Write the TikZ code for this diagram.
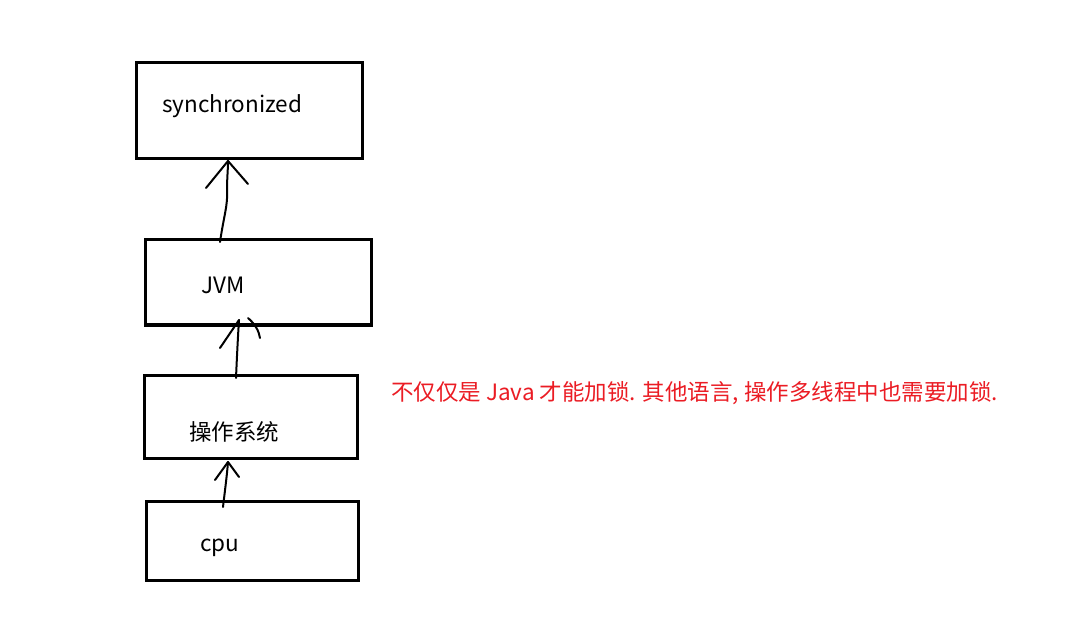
\documentclass[tikz,border=0pt]{standalone}
\usepackage{fontspec}
\setmainfont{Noto Sans CJK SC}
\definecolor{notered}{RGB}{235,28,36}
\begin{document}
\begin{tikzpicture}[x=1pt,y=-1pt,
  box/.style={draw=black,line width=3pt,minimum width=#1,inner sep=0pt},
  lbl/.style={anchor=west,inner sep=0pt,font=\fontsize{22.5pt}{27pt}\selectfont},
  hand/.style={draw=black,line width=2pt,line cap=round,line join=round}]
\useasboundingbox[fill=white] (0,0) rectangle (1086,617);
\node[box=226pt,minimum height=96pt] (sync) at (249,111) {};
\node[box=226pt,minimum height=85pt] (jvm) at (258,282.5) {};
\node[box=213pt,minimum height=83pt] (os) at (250.5,416.5) {};
\node[box=212pt,minimum height=79pt] (cpu) at (252,540.5) {};
\node[lbl] (tsync) at (162,106) {synchronized};
\node[lbl] (tjvm) at (201,285) {JVM};
\node[lbl] (tos) at (189,432) {操作系统};
\node[lbl] (tcpu) at (200,548) {cpu};
\node[lbl,text=notered] (note) at (391,393) {不仅仅是 Java 才能加锁. 其他语言, 操作多线程中也需要加锁.};
% arrow cpu -> os
\coordinate (a3s) at (223,507);
\coordinate (a3t) at (228,462);
\draw[hand] (a3s) .. controls (225,490) and (227,475) .. (a3t);
\draw[hand] (215,480) -- (a3t) -- (239,477);
% arrow os -> jvm
\coordinate (a2s) at (236,378);
\coordinate (a2t) at (239,320);
\draw[hand] (a2s) .. controls (237,355) and (238,335) .. (a2t);
\draw[hand] (220,348) -- (a2t);
\draw[hand] (248,318) .. controls (255,324) and (259,331) .. (260,338);
% arrow jvm -> sync
\coordinate (a1s) at (220,242);
\coordinate (a1t) at (228,161);
\draw[hand] (a1s) .. controls (224,215) and (228,205) .. (227,190) .. controls (227,178) and (228,170) .. (a1t);
\draw[hand] (206,188) -- (a1t) -- (248,184);
\end{tikzpicture}
\end{document}
